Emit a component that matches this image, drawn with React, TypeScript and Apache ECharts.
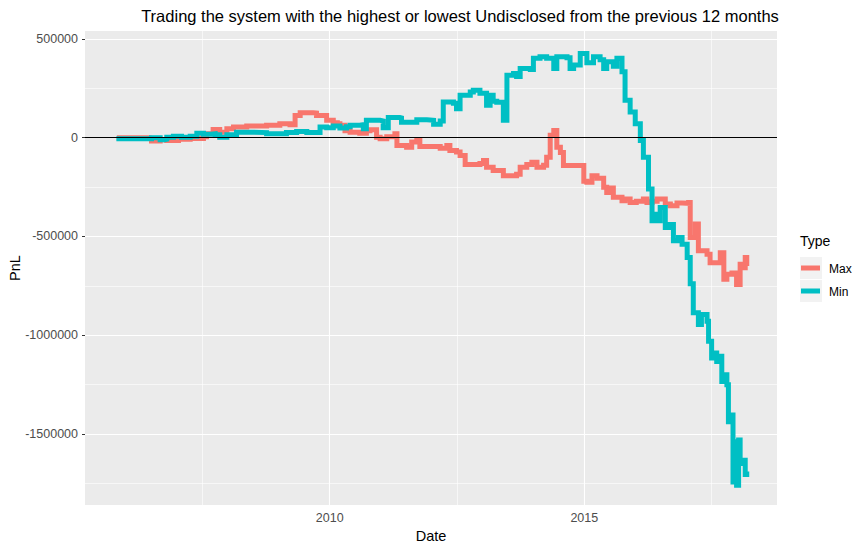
import React, { useEffect, useRef } from "react";
import * as echarts from "echarts";

// ---- data (dates as decimal years) ----
const maxDates = [
  2005.82, 2006.45, 2006.5, 2006.67, 2006.8, 2007.03, 2007.26, 2007.52, 2007.58, 2007.71, 2007.84,
  2007.98, 2008.11, 2008.37, 2008.76, 2009.02, 2009.22, 2009.32, 2009.42, 2009.68, 2009.74, 2009.94,
  2010.07, 2010.15, 2010.2, 2010.3, 2010.4, 2010.59, 2010.72, 2010.79, 2010.92, 2010.99, 2011.12,
  2011.28, 2011.32, 2011.51, 2011.61, 2011.71, 2011.77, 2011.97, 2012.17, 2012.3, 2012.36, 2012.49,
  2012.56, 2012.66, 2012.95, 2013.02, 2013.08, 2013.21, 2013.41, 2013.67, 2013.74, 2013.87, 2013.97,
  2014.07, 2014.2, 2014.26, 2014.33, 2014.4, 2014.46, 2014.53, 2014.59, 2014.79, 2014.99, 2015.05,
  2015.15, 2015.25, 2015.38, 2015.44, 2015.5, 2015.57, 2015.74, 2015.8, 2015.9, 2016.02, 2016.16,
  2016.23, 2016.33, 2016.43, 2016.59, 2016.69, 2016.82, 2016.92, 2017.05, 2017.08, 2017.18, 2017.24,
  2017.41, 2017.47, 2017.67, 2017.74, 2017.8, 2017.9, 2017.99, 2018.06, 2018.12, 2018.16, 2018.19,
];
const maxValues = [
  0, -3000, -17000, -10000, -14000, -8000, -3500, 5000, 20000, 42000, 28000,
  46000, 54000, 59000, 63000, 71000, 66000, 113000, 127000, 125000, 113000, 88000,
  76000, 71000, 63000, 35000, 28000, 23000, 35000, 41000, 3000, -5000, 5000,
  20000, -39000, -48000, -22000, -14000, -44000, -44000, -53000, -40000, -65000, -72000,
  -90000, -136000, -130000, -115000, -150000, -166000, -192000, -185000, -150000, -135000, -124000,
  -150000, -140000, -99000, 12000, 37000, -48000, -75000, -141000, -141000, -220000, -226000,
  -192000, -205000, -251000, -277000, -255000, -302000, -319000, -310000, -328000, -322000, -310000,
  -328000, -322000, -310000, -336000, -345000, -330000, -332000, -328000, -505000, -437000, -573000,
  -590000, -633000, -582000, -717000, -692000, -685000, -743000, -641000, -658000, -607000, -650000,
];
const minDates = [
  2005.81, 2006.5, 2006.67, 2006.76, 2006.8, 2006.93, 2007.09, 2007.26, 2007.39, 2007.52, 2007.65,
  2007.75, 2007.84, 2007.98, 2008.17, 2008.5, 2008.76, 2009.15, 2009.35, 2009.55, 2009.81, 2009.94,
  2010.07, 2010.2, 2010.33, 2010.4, 2010.59, 2010.66, 2010.72, 2010.99, 2011.05, 2011.15, 2011.38,
  2011.41, 2011.71, 2011.91, 2012.04, 2012.17, 2012.23, 2012.43, 2012.49, 2012.56, 2012.76, 2012.82,
  2012.95, 2013.08, 2013.15, 2013.21, 2013.28, 2013.41, 2013.48, 2013.61, 2013.67, 2013.74, 2013.94,
  2014.0, 2014.13, 2014.26, 2014.4, 2014.46, 2014.66, 2014.72, 2014.79, 2014.92, 2015.05, 2015.18,
  2015.31, 2015.38, 2015.44, 2015.57, 2015.64, 2015.74, 2015.8, 2015.9, 2016.0, 2016.1, 2016.16,
  2016.26, 2016.33, 2016.4, 2016.46, 2016.49, 2016.59, 2016.67, 2016.75, 2016.85, 2016.92, 2017.02,
  2017.08, 2017.14, 2017.24, 2017.3, 2017.41, 2017.44, 2017.5, 2017.55, 2017.6, 2017.67, 2017.7,
  2017.77, 2017.8, 2017.83, 2017.9, 2017.92, 2017.96, 2017.99, 2018.03, 2018.06, 2018.12, 2018.16,
  2018.19,
];
const minValues = [
  -5000, 0, -10000, -8000, 2000, 8000, 2000, 8000, 23000, 18000, 20000,
  15000, 3000, 15000, 28000, 26000, 20000, 26000, 32000, 27000, 54000, 50000,
  59000, 49000, 55000, 63000, 66000, 46000, 88000, 85000, 51000, 102000, 100000,
  79000, 91000, 88000, 68000, 85000, 181000, 175000, 147000, 215000, 232000, 240000,
  225000, 164000, 215000, 185000, 180000, 88000, 317000, 325000, 310000, 351000, 345000,
  402000, 410000, 402000, 351000, 410000, 405000, 351000, 368000, 427000, 380000, 410000,
  395000, 351000, 385000, 362000, 402000, 334000, 190000, 130000, 71000, -14000, -99000,
  -260000, -421000, -387000, -420000, -353000, -455000, -440000, -522000, -505000, -539000, -607000,
  -740000, -887000, -946000, -895000, -929000, -1031000, -1116000, -1090000, -1133000, -1107000, -1234000,
  -1200000, -1251000, -1438000, -1404000, -1743000, -1540000, -1760000, -1531000, -1650000, -1633000, -1706000,
  -1690000,
];

const typeNames = ["Max", "Min"];
const typeColors = ["#F8766D", "#00BFC4"];

const xBreaks = [2010, 2015];
const xMinorBreaks = [2007.5, 2012.5, 2017.5];
const yBreaks = [500000, 0, -500000, -1000000, -1500000];
const yMinorBreaks = [250000, -250000, -750000, -1250000, -1750000];

const titleText = "Trading the system with the highest or lowest Undisclosed from the previous 12 months";
const xTitle = "Date";
const yTitle = "PnL";
const legendTitle = "Type";

const FONT = '"Liberation Sans", Arial, Helvetica, sans-serif';

export default function App() {
  const ref = useRef<HTMLDivElement>(null);

  useEffect(() => {
    if (!ref.current) return;
    const chart = echarts.init(ref.current, null, { renderer: "svg" });

    const zip = (xs: number[], ys: number[]) => xs.map((x, i) => [x, ys[i]]);
    const seriesData = [zip(maxDates, maxValues), zip(minDates, minValues)];

    const gridLines = [
      ...xMinorBreaks.map((v) => ({ xAxis: v, lineStyle: { width: 0.6 } })),
      ...yMinorBreaks.map((v) => ({ yAxis: v, lineStyle: { width: 0.6 } })),
      ...xBreaks.map((v) => ({ xAxis: v, lineStyle: { width: 1.1 } })),
      ...yBreaks.map((v) => ({ yAxis: v, lineStyle: { width: 1.1 } })),
    ];

    const legendGraphics: any[] = [
      {
        type: "text",
        left: 800,
        top: 234,
        style: { text: legendTitle, font: `14px ${FONT}`, fill: "#000000" },
      },
    ];
    typeNames.forEach((name, i) => {
      const y0 = 257 + i * 23;
      legendGraphics.push({
        type: "rect",
        shape: { x: 800, y: y0, width: 22, height: 22 },
        style: { fill: "#F2F2F2" },
      });
      legendGraphics.push({
        type: "line",
        shape: { x1: 801, y1: y0 + 11, x2: 820, y2: y0 + 11 },
        style: { stroke: typeColors[i], lineWidth: 5 },
      });
      legendGraphics.push({
        type: "text",
        x: 829,
        y: y0 + 11.5,
        style: {
          text: name,
          font: `12px ${FONT}`,
          fill: "#000000",
          textVerticalAlign: "middle",
          verticalAlign: "middle",
        },
      });
    });

    const option: any = {
      animation: false,
      backgroundColor: "#FFFFFF",
      grid: {
        left: 85,
        right: 88,
        top: 31,
        bottom: 46,
        show: true,
        backgroundColor: "#EBEBEB",
        borderWidth: 0,
      },
      xAxis: {
        type: "value",
        min: 2005.194,
        max: 2018.784,
        axisLine: { show: false },
        splitLine: { show: false },
        axisTick: {
          show: true,
          customValues: xBreaks,
          length: 3,
          lineStyle: { color: "#333333", width: 1 },
        },
        axisLabel: {
          customValues: xBreaks,
          formatter: (v: number) => String(Math.round(v)),
          color: "#4D4D4D",
          fontSize: 12.5,
          fontFamily: FONT,
          margin: 6,
        },
      },
      yAxis: {
        type: "value",
        min: -1860000,
        max: 540500,
        axisLine: { show: false },
        splitLine: { show: false },
        axisTick: {
          show: true,
          customValues: yBreaks,
          length: 3,
          lineStyle: { color: "#333333", width: 1 },
        },
        axisLabel: {
          customValues: yBreaks,
          formatter: (v: number) => String(v),
          color: "#4D4D4D",
          fontSize: 12.5,
          fontFamily: FONT,
          margin: 7,
        },
      },
      series: [
        {
          type: "line",
          name: "grid",
          data: [[2005.5, 0]],
          showSymbol: false,
          symbol: "none",
          silent: true,
          lineStyle: { opacity: 0 },
          z: 1,
          markLine: {
            silent: true,
            symbol: ["none", "none"],
            label: { show: false },
            z: 1,
            lineStyle: { color: "#FFFFFF", type: "solid" },
            data: gridLines,
          },
        },
        ...typeNames.map((name, i) => ({
          type: "line",
          name,
          data: seriesData[i],
          step: "end",
          showSymbol: false,
          symbol: "none",
          z: 3 + i,
          lineStyle: { color: typeColors[i], width: 5, cap: "butt", join: "miter" },
          itemStyle: { color: typeColors[i] },
        })),
        {
          type: "line",
          name: "zero",
          data: [[2005.5, 0]],
          showSymbol: false,
          symbol: "none",
          silent: true,
          lineStyle: { opacity: 0 },
          z: 10,
          markLine: {
            silent: true,
            symbol: ["none", "none"],
            label: { show: false },
            z: 10,
            lineStyle: { color: "#000000", type: "solid", width: 1 },
            data: [{ yAxis: 0 }],
          },
        },
      ],
      graphic: [
        {
          type: "text",
          x: 460,
          y: 16,
          style: {
            text: titleText,
            font: `16.5px ${FONT}`,
            fill: "#000000",
            textAlign: "center",
            textVerticalAlign: "middle",
            align: "center",
            verticalAlign: "middle",
          },
        },
        {
          type: "text",
          x: 431,
          y: 536,
          style: {
            text: xTitle,
            font: `14.5px ${FONT}`,
            fill: "#000000",
            align: "center",
            verticalAlign: "middle",
            textAlign: "center",
            textVerticalAlign: "middle",
          },
        },
        {
          type: "text",
          x: 15,
          y: 268,
          rotation: Math.PI / 2,
          style: {
            text: yTitle,
            font: `14.5px ${FONT}`,
            fill: "#000000",
            align: "center",
            verticalAlign: "middle",
            textAlign: "center",
            textVerticalAlign: "middle",
          },
        },
        ...legendGraphics,
      ],
    };

    chart.setOption(option);
    return () => chart.dispose();
  }, []);

  return (
    <div
      ref={ref}
      style={{ position: "absolute", left: 0, top: 0, width: 865, height: 551 }}
    />
  );
}
